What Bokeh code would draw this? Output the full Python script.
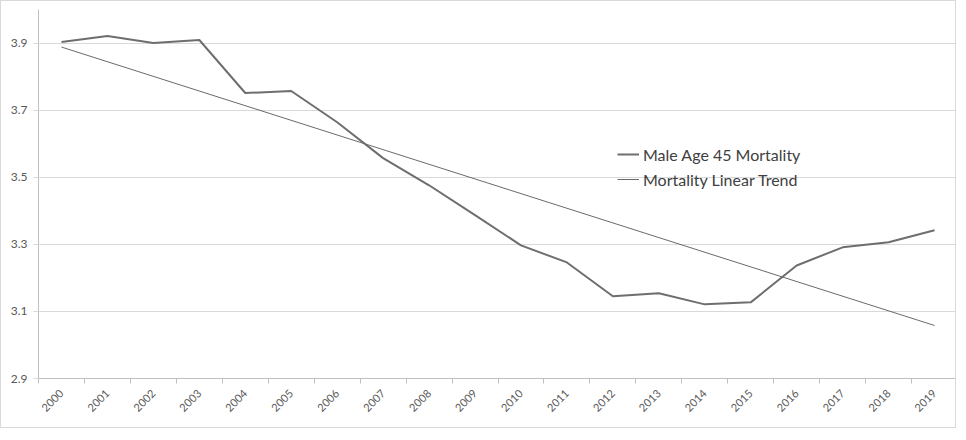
import math
from bokeh.plotting import figure
from bokeh.models import Range1d, FixedTicker, Legend, LegendItem
from bokeh.embed import file_html
from bokeh.resources import INLINE

years = list(range(2000, 2020))
mortality = [3.903, 3.921, 3.900, 3.909, 3.751, 3.757, 3.664, 3.557, 3.476, 3.387,
             3.297, 3.246, 3.145, 3.154, 3.121, 3.127, 3.237, 3.291, 3.306, 3.342]
trend_years = [2000, 2019]
trend_values = [3.888, 3.058]
y_ticks = [2.9, 3.1, 3.3, 3.5, 3.7, 3.9]
series_names = ["Male Age 45 Mortality", "Mortality Linear Trend"]

FONT = "Lato"
TXT = "#595959"

p = figure(width=956, height=428, output_backend="svg", toolbar_location=None,
           x_range=Range1d(years[0] - 0.5, years[-1] + 0.5),
           y_range=Range1d(2.9, 4.0),
           min_border_left=37, min_border_right=0, min_border_top=8, min_border_bottom=51)
p.styles = {"border": "1px solid #d9d9d9"}
p.outline_line_color = None
p.background_fill_color = "white"

# x axis
p.xaxis.ticker = FixedTicker(ticks=years, minor_ticks=[y - 0.5 for y in years] + [years[-1] + 0.5])
p.xaxis.major_label_overrides = {y: str(y) for y in years}
p.xaxis.major_label_orientation = math.pi / 4
p.xaxis.major_tick_line_color = None
p.xaxis.minor_tick_line_color = "#bfbfbf"
p.xaxis.minor_tick_in = 0
p.xaxis.minor_tick_out = 5
p.xaxis.axis_line_color = "#bfbfbf"
p.xaxis.major_label_text_font = FONT
p.xaxis.major_label_text_font_size = "11px"
p.xaxis.major_label_text_color = TXT
p.xaxis.major_label_standoff = 7
p.xgrid.grid_line_color = None

# y axis
p.yaxis.ticker = FixedTicker(ticks=y_ticks)
p.yaxis.major_label_overrides = {t: f"{t:.1f}" for t in y_ticks}
p.yaxis.minor_tick_line_color = None
p.yaxis.major_tick_line_color = "#d9d9d9"
p.yaxis.major_tick_in = 0
p.yaxis.major_tick_out = 5
p.yaxis.axis_line_color = "#bfbfbf"
p.yaxis.major_label_text_font = FONT
p.yaxis.major_label_text_font_size = "12px"
p.yaxis.major_label_text_color = TXT
p.yaxis.major_label_standoff = 6
p.ygrid.grid_line_color = "#d9d9d9"
p.ygrid.grid_line_width = 1

r1 = p.line(years, mortality, line_color="#6e6e6e", line_width=2)
r2 = p.line(trend_years, trend_values, line_color="#6a6a6a", line_width=1)

legend = Legend(items=[LegendItem(label=series_names[0], renderers=[r1]),
                       LegendItem(label=series_names[1], renderers=[r2])],
                location=(579, 189))
legend.background_fill_alpha = 0
legend.border_line_color = None
legend.padding = 0
legend.margin = 0
legend.spacing = 5
legend.glyph_width = 22
legend.glyph_height = 20
legend.label_height = 20
legend.label_standoff = 4
legend.label_text_font = FONT
legend.label_text_font_size = "16px"
legend.label_text_color = "#404040"
p.add_layout(legend, "center")

open("out.html", "w").write(file_html(p, INLINE))
